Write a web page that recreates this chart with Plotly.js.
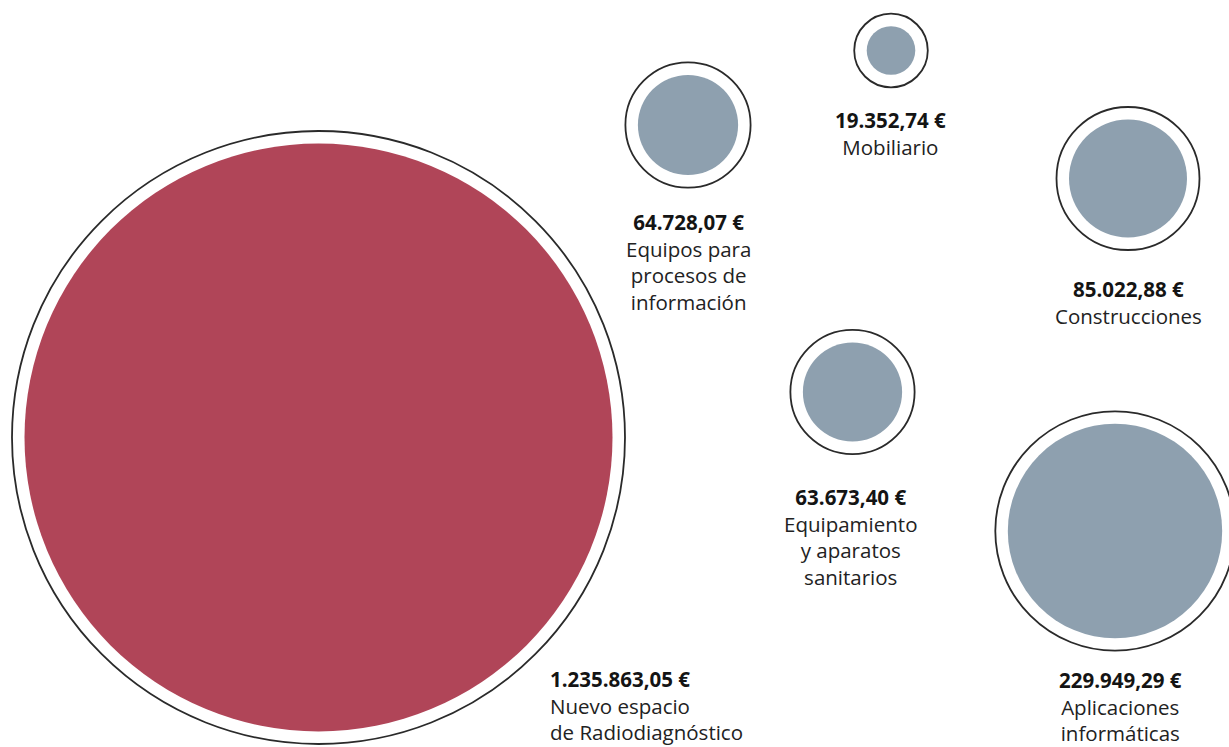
<!DOCTYPE html>
<html>
<head>
<meta charset="utf-8">
<script src="https://cdn.plot.ly/plotly-3.0.1.min.js"></script>
<style>
  html, body { margin: 0; padding: 0; background: #ffffff; }
  #chart { width: 1229px; height: 747px; }
</style>
</head>
<body>
<div id="chart"></div>
<script>
// ---- data ----
const categories = [
  ["Nuevo espacio", "de Radiodiagnóstico"],
  ["Aplicaciones", "informáticas"],
  ["Construcciones"],
  ["Equipamiento", "y aparatos", "sanitarios"],
  ["Equipos para", "procesos de", "información"],
  ["Mobiliario"]
];
const amounts = [1235863.05, 229949.29, 85022.88, 63673.40, 64728.07, 19352.74];
const highlight = [true, false, false, false, false, false];

// ---- layout (positions in page pixels) ----
const bubbleX = [318.5, 1115, 1128, 852.5, 688, 891];
const bubbleY = [437.5, 531, 178.5, 392, 125, 50.5];
const labelX = [549, 1120, 1128.5, 851, 688, 890.5];
const labelTop = [664, 665, 274, 482, 207, 105];
const labelAlign = ["left", "center", "center", "center", "center", "center"];

// ---- styles ----
const maxRadius = 294;
const exponent = 0.6;
const ringGap = 12.5;
const red = "#B04558";
const grey = "#8EA0AF";
const fontFamily = "'Open Sans', 'DejaVu Sans', sans-serif";
const fontSize = 20.5;

function fmtEuro(v) {
  const parts = v.toFixed(2).split(".");
  const intPart = parts[0].replace(/\B(?=(\d{3})+(?!\d))/g, ".");
  return intPart + "," + parts[1] + " €";
}

const vmax = Math.max(...amounts);
const innerDiam = amounts.map(v => 2 * maxRadius * Math.pow(v / vmax, exponent));
const ringDiam = innerDiam.map(d => d + 2 * ringGap);
const fillColors = highlight.map(h => h ? red : grey);

const ringTrace = {
  type: "scatter", mode: "markers",
  x: bubbleX, y: bubbleY,
  marker: { size: ringDiam, sizemode: "diameter", sizeref: 1, color: "#ffffff",
            line: { color: "#2a2a2a", width: 1.8 }, opacity: 1 },
  hoverinfo: "skip", cliponaxis: false
};
const fillTrace = {
  type: "scatter", mode: "markers",
  x: bubbleX, y: bubbleY,
  marker: { size: innerDiam, sizemode: "diameter", sizeref: 1, color: fillColors,
            line: { width: 0 }, opacity: 1 },
  text: categories.map((c, i) => c.join(" ") + ": " + fmtEuro(amounts[i])),
  hoverinfo: "text", cliponaxis: false
};

const annotations = amounts.map((v, i) => ({
  x: labelX[i], y: labelTop[i], xref: "x", yref: "y",
  xanchor: labelAlign[i] === "left" ? "left" : "center",
  yanchor: "top", align: labelAlign[i],
  showarrow: false, borderpad: 0,
  text: "<b style='color:#141414'>" + fmtEuro(v) + "</b><br>" + categories[i].join("<br>"),
  font: { family: fontFamily, size: fontSize, color: "#222222" }
}));

const layout = {
  width: 1229, height: 747,
  margin: { l: 0, r: 0, t: 0, b: 0 },
  paper_bgcolor: "#ffffff", plot_bgcolor: "#ffffff",
  showlegend: false,
  xaxis: { range: [0, 1229], visible: false, fixedrange: true },
  yaxis: { range: [747, 0], visible: false, fixedrange: true },
  annotations: annotations,
  font: { family: fontFamily }
};

Plotly.newPlot("chart", [ringTrace, fillTrace], layout, { displayModeBar: false, staticPlot: true });
</script>
</body>
</html>
